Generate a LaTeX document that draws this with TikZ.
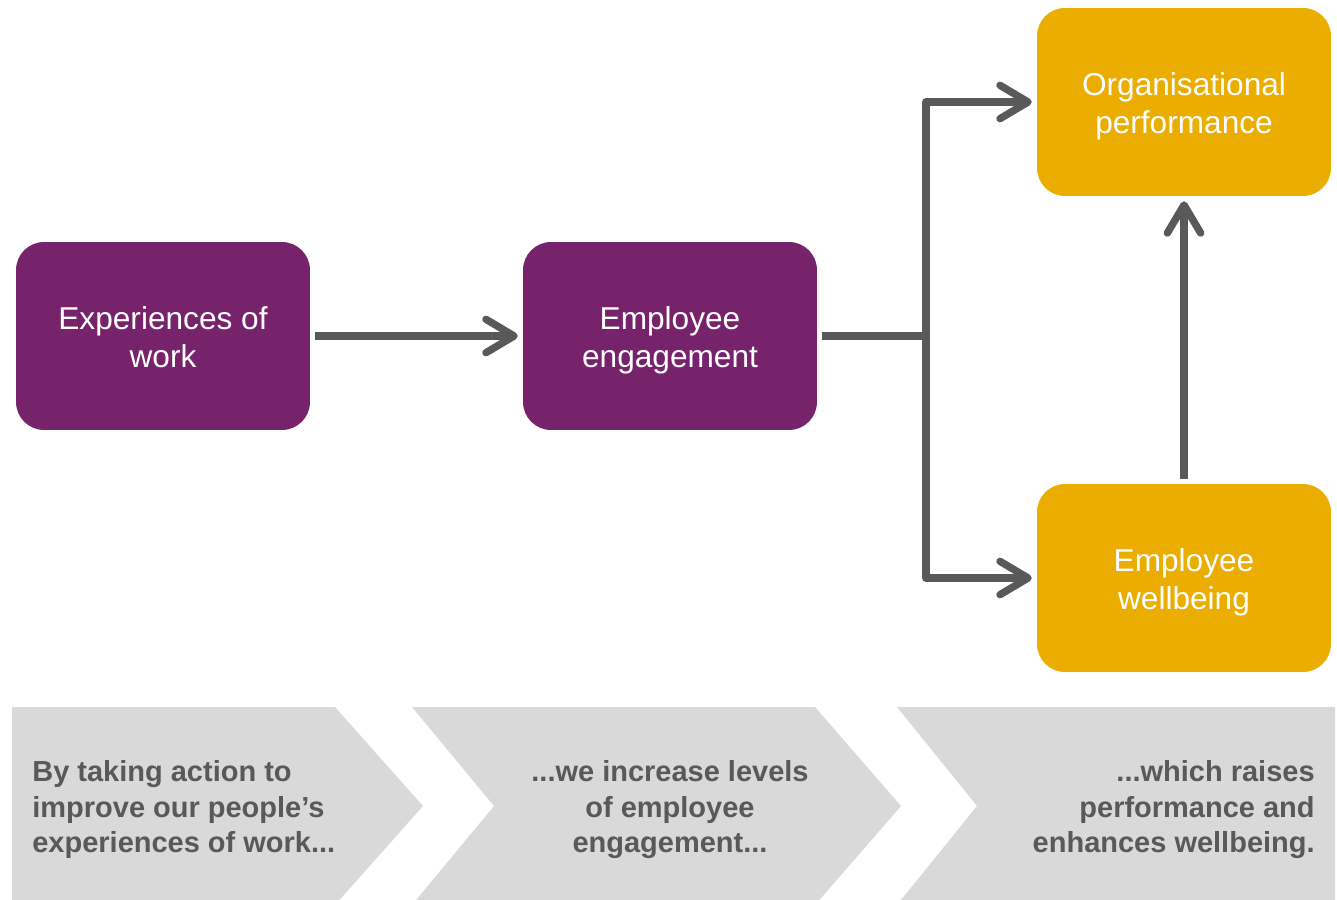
\documentclass[tikz,border=0pt]{standalone}
\usepackage{fontspec}
\setmainfont{Liberation Sans}
\usetikzlibrary{arrows.meta}

\definecolor{plum}{HTML}{76236C}
\definecolor{mustard}{HTML}{EAAD00}
\definecolor{linkgrey}{HTML}{595959}
\definecolor{bandgrey}{HTML}{D9D9D9}

\begin{document}
\begin{tikzpicture}[x=0.02cm, y=-0.02cm,
  box/.style={rounded corners=0.56cm, minimum width=5.88cm, minimum height=3.76cm,
    text=white, align=center, font=\fontsize{18}{21.5}\selectfont, outer sep=3pt,
    text height=39.5pt, text depth=4pt},
  link/.style={draw=linkgrey, line width=4.2pt, line join=round},
  pointed/.style={-{Straight Barb[length=16pt,width=19pt,round]}},
  bandtext/.style={text=linkgrey, inner sep=0pt, font=\bfseries\fontsize{16.5}{20.4}\selectfont,
    execute at begin node=\strut, execute at end node=\strut}]
  \useasboundingbox (0,0) rectangle (1337,899);

  % the three grey chevrons along the bottom
  \fill[bandgrey] (12,707) -- (335,707) -- (423,806) -- (335,905) -- (12,905) -- cycle;
  \fill[bandgrey] (412,707) -- (815,707) -- (901,806) -- (815,905) -- (412,905) -- (494,806) -- cycle;
  \fill[bandgrey] (897,707) -- (1335,707) -- (1335,905) -- (897,905) -- (977,806) -- cycle;
  \node[bandtext, anchor=west, align=left] (act) at (32,812)
    {By taking action to\\improve our people’s\\experiences of work...};
  \node[bandtext, align=center] (raise) at (670,812)
    {...we increase levels\\of employee\\engagement...};
  \node[bandtext, anchor=east, align=right] (gain) at (1315,812)
    {...which raises\\performance and\\enhances wellbeing.};

  % boxes
  \node[box, fill=plum] (exp) at (163,336) {Experiences of\\work};
  \node[box, fill=plum] (eng) at (670,336) {Employee\\engagement};
  \node[box, fill=mustard] (perf) at (1184,102) {Organisational\\performance};
  \node[box, fill=mustard] (wb) at (1184,578) {Employee\\wellbeing};
  \coordinate (split) at (926,336);

  % connectors
  \draw[link, pointed] (exp) -- (eng);
  \draw[link] (eng) -- (split);
  \draw[link, pointed] (split) |- (perf);
  \draw[link, pointed] (split) |- (wb);
  \draw[link, pointed] (wb) -- (perf);
\end{tikzpicture}
\end{document}
